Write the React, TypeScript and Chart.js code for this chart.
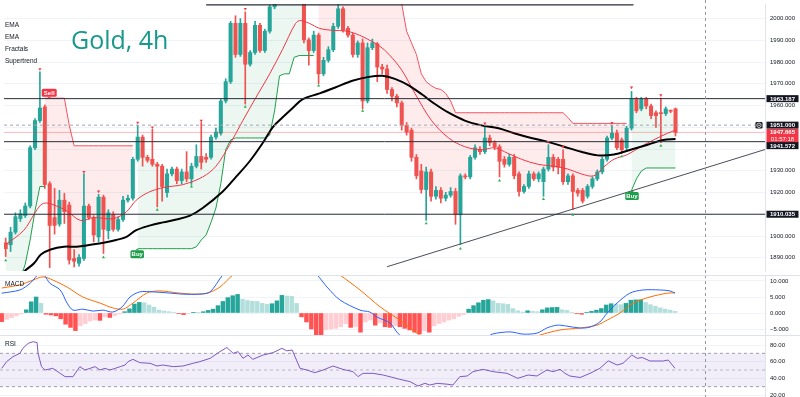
import React, { useEffect, useRef } from 'react';
import { Chart, registerables } from 'chart.js';

Chart.register(...registerables);

const N = null;

// ---------- candles (index 0..137, 4h bars) ----------
const OPEN = [1896.9,1896.0,1901.8,1908.0,1909.4,1913.8,1940.6,1953.1,1959.4,1924.1,1908.5,1905.5,1916.5,1914.3,1889.7,1887.5,1889.7,1913.8,1908.5,1899.6,1917.9,1902.5,1909.8,1903.1,1907.6,1916.5,1917.4,1935.3,1945.5,1936.2,1935.3,1933.0,1932.1,1920.0,1928.6,1930.8,1925.5,1929.5,1926.3,1932.1,1936.6,1936.2,1936.2,1945.5,1947.3,1962.1,1971.0,1997.8,1983.5,1997.8,1979.0,1984.4,1996.9,1985.3,1994.2,2005.4,2013.4,2018.0,2015.0,2020.0,2016.0,2017.0,1990.2,1985.3,1992.4,1974.6,1980.8,1985.7,1996.4,2004.5,1995.5,1992.4,1983.5,1988.8,1962.1,1986.6,1988.4,1977.7,1976.8,1967.4,1964.3,1961.2,1950.9,1948.7,1936.2,1929.9,1921.4,1929.5,1918.3,1921.0,1917.4,1918.8,1920.5,1909.8,1927.7,1927.2,1936.2,1939.7,1938.8,1945.1,1942.9,1941.1,1935.3,1933.0,1936.2,1928.6,1920.5,1922.8,1928.6,1926.3,1925.0,1930.8,1936.2,1935.3,1935.3,1925.0,1927.7,1921.0,1921.0,1918.3,1922.8,1926.3,1929.5,1935.3,1945.1,1947.3,1944.2,1940.6,1949.6,1962.9,1958.5,1962.9,1959.8,1956.7,1956.7,1956.3,1957.6,1958.5];
const HIGH = [1899.1,1904.0,1910.7,1912.1,1915.2,1941.5,1954.0,1975.5,1960.3,1925.0,1921.9,1921.0,1919.7,1915.6,1893.8,1891.5,1928.6,1914.7,1909.4,1919.2,1918.8,1912.1,1911.2,1908.9,1918.3,1918.8,1936.2,1950.9,1946.4,1937.1,1949.1,1933.9,1933.0,1930.8,1931.7,1931.7,1930.8,1938.8,1933.5,1942.0,1952.2,1937.9,1946.4,1949.6,1962.9,1972.3,1998.7,2001.3,2000.0,2003.1,1985.3,1998.7,1997.8,1995.1,2006.3,2015.6,2020.5,2022.0,2024.0,2023.0,2022.0,2020.0,1991.1,1994.2,1993.3,1982.2,1987.1,1997.8,2007.5,2005.4,1996.4,1993.3,1989.7,1990.6,1988.8,1990.6,1989.0,1979.0,1978.6,1968.3,1965.2,1962.1,1952.2,1949.6,1937.5,1933.0,1931.7,1930.8,1922.8,1922.3,1920.1,1922.3,1921.9,1928.6,1928.6,1937.1,1942.0,1941.1,1950.0,1946.4,1943.8,1942.0,1936.6,1937.5,1937.5,1929.5,1923.7,1929.9,1929.5,1929.5,1931.7,1942.0,1937.5,1936.2,1939.7,1928.6,1928.6,1921.9,1921.9,1923.7,1927.2,1930.4,1936.2,1946.0,1950.9,1948.7,1945.1,1950.5,1966.5,1963.8,1963.8,1963.8,1960.7,1957.6,1963.4,1959.4,1958.0,1958.9];
const LOW = [1890.6,1892.9,1900.9,1906.7,1908.5,1912.9,1939.7,1952.2,1921.9,1885.5,1900.9,1904.5,1905.8,1887.1,1885.8,1886.2,1888.8,1907.6,1897.3,1897.3,1892.0,1898.7,1902.2,1902.2,1906.7,1915.6,1916.5,1934.4,1932.1,1933.9,1932.1,1913.4,1916.1,1917.9,1927.7,1924.1,1924.1,1925.0,1923.7,1931.3,1930.8,1933.9,1935.3,1944.6,1946.4,1961.2,1970.1,1982.2,1982.6,1960.7,1978.1,1983.5,1984.4,1984.4,1993.3,2004.5,2011.0,2012.0,2013.0,2012.0,2010.0,1988.8,1978.6,1984.4,1970.1,1973.7,1979.9,1984.8,1995.5,1993.8,1991.5,1982.2,1982.2,1958.5,1961.2,1985.7,1971.0,1974.6,1965.6,1962.1,1959.4,1948.7,1946.4,1934.4,1926.3,1919.7,1907.2,1916.1,1917.0,1915.2,1916.1,1917.9,1905.4,1896.0,1926.3,1926.3,1935.3,1937.5,1937.9,1941.5,1939.7,1927.2,1931.7,1932.1,1926.3,1918.3,1919.7,1921.9,1925.5,1925.0,1918.3,1929.9,1929.9,1928.6,1923.7,1923.7,1912.1,1918.3,1915.2,1917.4,1921.9,1925.5,1928.6,1934.4,1944.2,1939.7,1937.9,1939.7,1948.7,1956.7,1957.6,1958.5,1954.0,1950.0,1942.9,1955.4,1956.7,1946.0];
const CLOSE = [1894.2,1901.8,1908.9,1910.3,1913.8,1940.6,1953.1,1958.9,1923.7,1904.9,1904.9,1916.5,1911.2,1889.0,1888.4,1890.2,1913.8,1908.5,1900.5,1917.9,1903.1,1910.7,1903.1,1907.6,1916.5,1917.4,1935.3,1945.5,1936.2,1934.8,1933.0,1932.1,1922.8,1928.6,1930.8,1925.5,1929.5,1926.3,1932.1,1936.6,1933.9,1935.3,1945.5,1947.8,1962.1,1971.0,1997.8,1983.5,1997.8,1979.0,1984.4,1996.9,1985.3,1994.2,2005.4,2013.4,2018.0,2015.0,2020.0,2016.0,2019.0,1990.2,1985.3,1992.4,1974.6,1980.8,1985.7,1996.4,2004.5,1994.6,1992.4,1983.5,1988.8,1962.1,1986.6,1988.8,1977.7,1976.8,1967.4,1964.3,1961.2,1950.9,1947.8,1936.2,1927.7,1921.4,1929.5,1918.3,1921.0,1917.4,1918.8,1920.5,1909.8,1927.7,1927.2,1936.2,1940.6,1938.8,1945.1,1942.9,1941.1,1934.4,1933.0,1936.2,1927.7,1920.5,1922.8,1928.6,1926.3,1928.6,1930.8,1936.2,1931.7,1931.7,1925.0,1927.7,1920.5,1919.7,1916.1,1922.8,1926.3,1929.5,1935.3,1945.1,1947.3,1940.6,1939.7,1949.6,1962.9,1957.6,1962.9,1959.8,1955.4,1955.4,1956.3,1958.5,1957.4,1947.665];

// ---------- EMAs (index, price) ----------
const EMA_FAST_X = [0,3.72,5.76,7.18,8.4,10.4,12.5,15.3,18.0,22.0,24.7,26.7,29.2,32.2,36.3,40.3,43.0,45.8,48.5,51.1,54.0,56.6,59.3,60.3,62.1,64.2,66.8,69.8,72.3,74.3,76.4,78.4,81.0,83.7,87.1,90.6,93.9,97.3,100.0,102.0,105.5,108.9,112.2,115.0,117.7,120.3,122.3,124.4,127.2,129.9,132.5,135.4,137.0];
const EMA_FAST_V = [1896.0,1902.7,1909.8,1914.3,1915.2,1913.8,1911.6,1907.2,1908.5,1908.0,1911.2,1916.5,1920.1,1922.3,1923.7,1927.2,1932.1,1942.0,1953.1,1963.4,1974.6,1985.7,1997.8,1999.1,1997.8,1995.5,1994.6,1994.2,1992.4,1990.2,1987.5,1983.5,1976.3,1965.6,1953.1,1945.1,1941.1,1939.7,1940.6,1938.8,1935.3,1933.0,1932.1,1930.8,1928.6,1927.7,1931.7,1935.3,1937.5,1941.1,1944.2,1947.3,1948.7];
const EMA_SLOW_X = [2.7,3.7,5.8,7.2,9.2,11.9,14.5,17.4,20.0,22.6,24.7,26.7,29.6,32.2,34.9,37.7,40.3,44.4,47.1,49.9,52.6,54.6,56.6,58.7,60.7,64.2,67.4,70.9,74.3,77.0,79.6,82.5,85.1,87.8,90.6,93.9,97.3,100.8,104.0,107.5,110.9,114.2,117.7,121.1,124.4,127.8,131.3,134.5,137.0];
const EMA_SLOW_V = [1880.0,1883.5,1887.5,1891.5,1893.8,1895.1,1895.1,1896.0,1896.9,1898.2,1899.6,1902.7,1904.9,1906.3,1907.6,1909.4,1912.9,1920.5,1927.2,1934.4,1942.9,1950.0,1954.5,1958.9,1962.9,1965.6,1968.3,1971.4,1973.2,1973.7,1972.3,1969.2,1965.2,1960.7,1956.7,1953.1,1950.9,1949.6,1947.3,1945.1,1943.3,1941.1,1938.8,1937.1,1937.5,1939.7,1942.0,1944.2,1944.6];

// ---------- Supertrend ----------
const ST_UP = [1876,1877,1878,1880.4,1887.1,1898.2,1911.6,1922.8,1922.8,
  N,N,N,N,N,N,N,N,N,N,N,N,N,N,N,N,N,N,
  1894.2,1894.2,1894.2,1894.2,1894.2,1894.2,1894.2,1894.2,1894.2,1894.2,1894.2,1894.2,
  1895.1,1898.2,1900.5,1906.3,1912.9,1924.1,1939.7,1944.2,
  1945.1,1945.1,1945.1,1945.1,1945.1,1945.1,1945.1,
  1946.4,1957.6,1973.7,1974.6,1974.6,1982.2,
  1983.0,1983.0,1983.0,1983.0,
  N,N,N,N,N,N,N,N,N,N,N,N,N,N,N,N,N,N,N,N,N,N,N,N,N,N,N,N,N,N,N,N,
  N,N,N,N,N,N,N,N,N,N,N,N,N,N,N,N,N,N,N,N,N,N,N,N,N,N,N,N,N,N,N,N,
  1921.0,1926.3,1929.9,1931.3,1931.3,1931.3,1931.3,1931.3,1931.3,1931.3];
const ST_DOWN = [N,N,N,N,N,N,N,N,
  1963.4,1963.4,1963.4,1963.4,1963.4,1950.9,
  1941.5,1941.5,1941.5,1941.5,1941.5,1941.5,1941.5,1941.5,1941.5,1941.5,1941.5,1941.5,1941.5,
  N,N,N,N,N,N,N,N,N,N,N,N,N,N,N,N,N,N,N,N,N,N,N,N,N,N,N,N,N,N,N,N,N,N,N,N,N,
  2030,2030,2030,2030,2030,2030,2030,2025,2025,2025,2025,2025,2025,2018,2018,2018,
  2012,2006.7,1994.2,1988.8,1983.5,1974.6,1971.0,1969.2,1967.9,1967.4,1965.6,1962.1,
  1956.7,1956.7,1956.7,1956.7,1956.7,1956.7,1956.7,1956.7,1956.7,1956.7,1956.7,1956.7,1956.7,1956.7,1956.7,1956.7,1956.7,1956.7,1956.7,1956.7,1956.7,1956.7,1956.7,
  1954.5,1951.8,1951.8,1951.8,1951.8,1951.8,1951.8,1951.8,1951.8,1951.8,1951.8,1951.8,1951.8,
  N,N,N,N,N,N,N,N,N,N];
const SIGNAL_INDEX = [8.9, 26.9, 128.1];
const SIGNAL_PRICE = [1963.4, 1894.2, 1921.0];
const SIGNAL_TEXT = ['Sell', 'Buy', 'Buy'];

// ---------- Fractals ----------
const FRACTAL_UP_I = [7,16,19,27,30,40,49,98,111,114,124,128,134];
const FRACTAL_UP_P = [1976.8,1929.5,1920.5,1952.2,1950.0,1953.1,2004.5,1951.8,1943.3,1941.1,1952.0,1968.3,1964.8];
const FRACTAL_DN_I = [0,20,31,38,49,64,73,86,93,101,110,116,126,134];
const FRACTAL_DN_P = [1888.8,1890.2,1912.1,1922.8,1959.4,1969.2,1957.6,1905.8,1894.2,1925.5,1917.0,1909.8,1936.6,1941.5];

// ---------- drawings ----------
const LEVELS = [1963.187, 1943.4, 1910.035];
const TOP_LINE_X = [41.0, 128.4];
const TOP_LINE_P = 2006.3;
const TREND_X = [78.0, 155.3];
const TREND_P = [1885.9, 1939.8];
const DASHED_LEVEL = 1951.0;
const LAST_PRICE = 1947.665;
const CURSOR_X = 143.1;

const TAG_VALUE = [1963.187, 1951.0, 1947.665, 1941.572, 1910.035];
const TAG_TEXT = ['1963.187', '1951.000', '1947.665', '1941.572', '1910.035'];
const TAG_SUB = ['', '', '01:57:18', '', ''];
const TAG_BG = ['#131722', '#131722', '#f23645', '#131722', '#131722'];

// ---------- MACD ----------
const MACD_HIST = [-2.7,-2.0,-1.5,-0.9,-0.3,1.0,3.5,5.0,3.0,-0.4,-0.6,-0.9,-1.8,-3.5,-4.5,-5.5,-4.0,-3.3,-2.5,-2.2,-2.3,-1.2,-1.4,-0.8,-0.3,0.4,1.3,2.8,3.3,3.2,2.5,1.8,0.9,0.6,0.4,0.2,-0.2,-0.5,-0.2,0.1,0.08,0.4,0.8,1.2,2.3,3.6,4.8,5.4,5.8,4.3,3.9,3.7,3.6,3.0,2.7,2.9,3.8,5.5,5.3,5.2,3.0,-1.2,-2.8,-5.0,-6.8,-6.9,-5.2,-5.0,-4.8,-4.3,-3.3,-4.5,-4.3,-6.0,-2.8,-2.2,-3.8,-3.0,-4.3,-4.5,-4.0,-4.3,-4.8,-5.3,-6.0,-6.5,-5.5,-6.0,-4.0,-3.3,-2.8,-2.2,-1.8,-1.0,-0.5,1.2,2.3,3.2,4.0,4.2,3.8,3.0,2.9,2.7,1.4,0.7,0.3,0.7,0.5,0.4,1.0,1.6,1.7,1.75,1.0,0.8,0.2,-0.2,-0.4,0.2,0.5,0.9,1.4,2.5,2.9,2.8,2.6,3.0,4.0,4.1,4.15,3.3,2.6,2.1,1.6,1.2,0.9,0.5];
const MACD_X = [0,3.7,5.8,7.8,8.8,9.8,11.9,13.3,14.5,16.5,18.6,20.6,22.6,24.5,26.1,28.1,30.8,33.6,36.9,40.3,42.4,45.0,47.1,52.5,58.7,62.7,64.2,66.2,68.8,72.9,74.9,76.4,79.0,81.0,85.1,93.2,98.3,99.8,103.4,106.1,108.9,110.9,113.0,115.0,117.7,119.7,121.7,123.2,125.2,127.8,130.5,133.9,136.0,137.0];
const MACD_V = [6.2,7.2,9.3,12.5,11.5,9.3,7.2,3.1,0.9,1.2,0.6,0.9,0.3,1.9,5.0,6.6,6.6,6.3,5.9,5.9,6.6,11.9,14.5,16,16,14,11.9,8.1,4.1,0.9,0.3,-1.3,-3.1,-6.9,-9,-9,-8,-6.6,-5.9,-6.6,-6.3,-4.7,-3.8,-4.1,-4.7,-4.4,-2.8,0,3.1,6.2,7.2,7.2,6.9,6.2];
const SIGNAL_X = [0,3.7,6.4,8.4,10.4,13.3,16.5,20.0,22.6,24.7,26.7,29.6,32.2,35.7,38.9,41.8,44.4,47.1,50.5,60.7,66.8,68.8,72.9,77.0,81.0,85.1,89.2,101.4,107.5,109.5,113.6,117.7,121.1,123.2,125.8,128.5,131.9,135.4,137.0];
const SIGNAL_V = [7.8,8.8,10.3,11.3,10.3,8.1,5.0,3.1,1.6,1.2,3.1,6.3,6.9,6.3,5.9,6.2,8.1,11.9,14.5,16,14,11.9,7.2,1.9,-2.2,-6.9,-9,-10.5,-8,-6.9,-5.3,-4.7,-3.8,-2.2,0,3.1,5.0,6.2,6.3];

// ---------- RSI ----------
const RSI_X = [0,1.0,2.3,3.7,4.3,5.4,6.4,7.2,7.4,8.1,8.8,10.4,11.9,12.9,14.5,15.9,16.9,18.0,19.0,20.0,21.0,22.0,23.1,24.1,25.1,25.7,26.7,28.1,30.2,31.6,32.8,34.9,36.9,38.9,40.3,42.4,44.4,45.8,47.1,48.1,49.1,50.1,51.1,53.2,55.2,57.0,58.0,59.1,60.7,62.1,63.7,65.4,67.4,69.4,71.5,72.5,73.5,75.5,77.6,79.6,81.0,83.1,84.7,86.1,87.1,88.6,90.6,91.8,93.2,94.7,95.9,97.9,100.0,102.8,105.0,107.1,108.9,110.9,112.2,113.6,114.6,115.6,117.7,119.7,121.7,123.4,125.2,126.4,128.2,129.3,130.3,131.9,134.6,135.6,137.0];
const RSI_V = [52,60,66,70,76,82,84,82.8,70,54,50,52,46,42,42,54,50,52,54,50,52,50,52,54,56,60,62.8,58.8,58,54.8,56,54,54.8,58,60,64,72,77,70,72,64,68,62.8,68,70.8,76,73,74,52,50,46.8,50,54.8,50.8,48,42,46,46,44,41,38.8,36,30.8,34,32,34,33,32,42,42.8,48,50.8,48,46,40,44,42.8,50,48,50.8,46,42.8,41,46,52,61,56,58,68,64,65,60.8,60.8,62,52];
const RSI_LEVELS = [70, 50, 30];

// ---------- axes ----------
const MAIN_TICKS = [1890,1900,1910,1920,1930,1940,1950,1960,1970,1980,1990,2000];
const MAIN_HIDDEN = [1910, 1940, 1950];
const MACD_TICKS = [-5, 0, 5, 10];
const RSI_TICKS = [20, 40, 60, 80];

const FONT = "'Liberation Sans', Arial, sans-serif";
const AXIS_W = 35;
const MAIN_H = 275;
const MACD_H = 60;
const RSI_H = 62;
const X_MIN = -0.346;
const X_MAX = 155.3;
const UP_COLOR = '#26a69a';
const DOWN_COLOR = '#ef5350';

const pts = (xs: number[], ys: number[]) => xs.map((x, i) => ({ x, y: ys[i] }));
const hline = (v: number) => [{ x: X_MIN, y: v }, { x: X_MAX, y: v }];

function yScale(min: number, max: number, ticks: number[], fmt: (v: number) => string, hidden: number[] = []) {
  return {
    type: 'linear',
    position: 'right',
    min,
    max,
    offset: false,
    afterFit: (s: any) => { s.width = AXIS_W; s.paddingTop = 0; s.paddingBottom = 0; },
    afterBuildTicks: (s: any) => { s.ticks = ticks.map((v) => ({ value: v })); },
    ticks: {
      autoSkip: false,
      padding: 5,
      color: '#131722',
      font: { size: 6, family: FONT },
      callback: (v: number) => (hidden.includes(v) ? '' : fmt(v)),
    },
    grid: { color: '#f0f3fa', drawTicks: false, offset: false },
    border: { display: true, color: '#e0e3eb' },
  };
}

function baseOptions(y: any) {
  return {
    responsive: false,
    maintainAspectRatio: false,
    animation: false,
    devicePixelRatio: 1,
    events: [],
    layout: { padding: 0 },
    plugins: {
      legend: { display: false },
      tooltip: { enabled: false },
      filler: { drawTime: 'beforeDatasetsDraw' },
    },
    scales: {
      x: { type: 'linear', min: X_MIN, max: X_MAX, display: false, offset: false, grid: { offset: false } },
      y,
    },
  };
}

const cursorPlugin = {
  id: 'cursorLine',
  afterDatasetsDraw(chart: any) {
    const { ctx } = chart;
    const x = Math.round(chart.scales.x.getPixelForValue(CURSOR_X)) + 0.5;
    ctx.save();
    ctx.strokeStyle = '#9598a1';
    ctx.lineWidth = 1;
    ctx.setLineDash([3, 3]);
    ctx.beginPath();
    ctx.moveTo(x, 0);
    ctx.lineTo(x, chart.height);
    ctx.stroke();
    ctx.restore();
  },
};

const separatorPlugin = {
  id: 'paneSeparator',
  afterDraw(chart: any) {
    const { ctx } = chart;
    ctx.save();
    ctx.strokeStyle = '#dfe2ea';
    ctx.lineWidth = 1;
    ctx.beginPath();
    ctx.moveTo(0, 0.5);
    ctx.lineTo(chart.width, 0.5);
    ctx.stroke();
    ctx.restore();
  },
};

function roundRect(ctx: any, x: number, y: number, w: number, h: number, r: number) {
  ctx.beginPath();
  ctx.moveTo(x + r, y);
  ctx.lineTo(x + w - r, y);
  ctx.quadraticCurveTo(x + w, y, x + w, y + r);
  ctx.lineTo(x + w, y + h - r);
  ctx.quadraticCurveTo(x + w, y + h, x + w - r, y + h);
  ctx.lineTo(x + r, y + h);
  ctx.quadraticCurveTo(x, y + h, x, y + h - r);
  ctx.lineTo(x, y + r);
  ctx.quadraticCurveTo(x, y, x + r, y);
  ctx.closePath();
}

const signalPlugin = {
  id: 'signals',
  afterDatasetsDraw(chart: any) {
    const { ctx } = chart;
    const xs = chart.scales.x;
    const ys = chart.scales.y;
    ctx.save();
    ctx.font = `bold 6px ${FONT}`;
    ctx.textAlign = 'center';
    ctx.textBaseline = 'middle';
    SIGNAL_INDEX.forEach((si, k) => {
      const px = xs.getPixelForValue(si);
      const py = ys.getPixelForValue(SIGNAL_PRICE[k]);
      const sell = SIGNAL_TEXT[k] === 'Sell';
      const w = sell ? 15 : 13.5;
      const h = 8;
      const top = sell ? py - 1.5 - h : py + 1.5;
      const col = sell ? '#f23645' : '#1e9e4a';
      ctx.fillStyle = col;
      roundRect(ctx, px - w / 2, top, w, h, 1.5);
      ctx.fill();
      ctx.beginPath();
      if (sell) {
        ctx.moveTo(px - 2, top + h);
        ctx.lineTo(px + 2, top + h);
        ctx.lineTo(px, py);
      } else {
        ctx.moveTo(px - 2, top);
        ctx.lineTo(px + 2, top);
        ctx.lineTo(px, py);
      }
      ctx.closePath();
      ctx.fill();
      ctx.fillStyle = '#ffffff';
      ctx.fillText(SIGNAL_TEXT[k], px, top + h / 2 + 0.5);
    });
    ctx.restore();
  },
};

const tagPlugin = {
  id: 'priceTags',
  afterDraw(chart: any) {
    const { ctx } = chart;
    const ys = chart.scales.y;
    const left = chart.chartArea.right + 1.5;
    const w = 32;
    ctx.save();
    ctx.font = `bold 6px ${FONT}`;
    ctx.textAlign = 'center';
    ctx.textBaseline = 'middle';
    TAG_VALUE.forEach((v, k) => {
      const py = ys.getPixelForValue(v);
      const h = TAG_SUB[k] ? 14 : 7;
      const top = py - 3.5;
      ctx.fillStyle = TAG_BG[k];
      ctx.fillRect(left, top, w, h);
      ctx.fillStyle = '#ffffff';
      ctx.fillText(TAG_TEXT[k], left + w / 2, py + 0.3);
      if (TAG_SUB[k]) {
        ctx.font = `6px ${FONT}`;
        ctx.fillText(TAG_SUB[k], left + w / 2, py + 7.2);
        ctx.font = `bold 6px ${FONT}`;
      }
      if (k === 1) {
        const ix = left - 11;
        ctx.fillStyle = '#131722';
        roundRect(ctx, ix, py - 3.2, 7, 6.6, 1.2);
        ctx.fill();
        ctx.strokeStyle = '#ffffff';
        ctx.lineWidth = 0.8;
        ctx.beginPath();
        ctx.arc(ix + 3.5, py + 0.1, 2.2, 0, Math.PI * 2);
        ctx.stroke();
        ctx.beginPath();
        ctx.moveTo(ix + 2.4, py + 0.1);
        ctx.lineTo(ix + 4.6, py + 0.1);
        ctx.stroke();
      }
    });
    ctx.restore();
  },
};

function mainConfig(): any {
  const mid = OPEN.map((o, i) => ({ x: i, y: (o + CLOSE[i]) / 2 }));
  const colors = OPEN.map((o, i) => (CLOSE[i] >= o ? UP_COLOR : DOWN_COLOR));
  const greenFill = 'rgba(38,166,91,0.09)';
  const redFill = 'rgba(242,54,69,0.10)';
  const datasets: any[] = [
    { type: 'line', data: mid, borderColor: 'transparent', borderWidth: 0, pointRadius: 0, order: 50 },
    {
      type: 'line', data: ST_UP.map((v, i) => ({ x: i, y: v })), borderColor: '#1f9e4d', borderWidth: 1,
      pointRadius: 0, spanGaps: false, fill: { target: 0, above: greenFill, below: greenFill }, order: 4,
    },
    {
      type: 'line', data: ST_DOWN.map((v, i) => ({ x: i, y: v })), borderColor: '#f7525f', borderWidth: 1,
      pointRadius: 0, spanGaps: false, fill: { target: 0, above: redFill, below: redFill }, order: 4,
    },
    { type: 'bar', data: LOW.map((l, i) => ({ x: i, y: [l, HIGH[i]] })), backgroundColor: colors, barThickness: 1, grouped: false, borderWidth: 0, order: 12 },
    { type: 'bar', data: OPEN.map((o, i) => ({ x: i, y: [o, CLOSE[i]] })), backgroundColor: colors, barThickness: 3.4, grouped: false, borderWidth: 0, minBarLength: 1, order: 11 },
    { type: 'line', data: pts(EMA_SLOW_X, EMA_SLOW_V), borderColor: '#000000', borderWidth: 2, pointRadius: 0, tension: 0.35, order: 3 },
    { type: 'line', data: pts(EMA_FAST_X, EMA_FAST_V), borderColor: '#f23645', borderWidth: 1, pointRadius: 0, tension: 0.35, order: 3 },
    ...LEVELS.map((v) => ({ type: 'line', data: hline(v), borderColor: '#2a2e39', borderWidth: 1, pointRadius: 0, order: 2 })),
    { type: 'line', data: [{ x: TOP_LINE_X[0], y: TOP_LINE_P }, { x: TOP_LINE_X[1], y: TOP_LINE_P }], borderColor: '#2a2e39', borderWidth: 1.2, pointRadius: 0, order: 2 },
    { type: 'line', data: pts(TREND_X, TREND_P), borderColor: '#4a4e59', borderWidth: 1, pointRadius: 0, order: 2 },
    { type: 'line', data: hline(DASHED_LEVEL), borderColor: '#a3a6af', borderWidth: 1, borderDash: [3, 3], pointRadius: 0, order: 2 },
    { type: 'line', data: hline(LAST_PRICE), borderColor: 'rgba(242,54,69,0.35)', borderWidth: 1, pointRadius: 0, order: 2 },
    {
      type: 'line', data: pts(FRACTAL_UP_I, FRACTAL_UP_P), showLine: false, pointStyle: 'triangle', pointRotation: 180,
      pointRadius: 1.8, pointBorderWidth: 0, pointBackgroundColor: '#f23645', order: 1,
    },
    {
      type: 'line', data: pts(FRACTAL_DN_I, FRACTAL_DN_P), showLine: false, pointStyle: 'triangle',
      pointRadius: 1.8, pointBorderWidth: 0, pointBackgroundColor: '#2fb24f', order: 1,
    },
  ];
  return {
    type: 'line',
    data: { datasets },
    options: baseOptions(yScale(2006.7 - MAIN_H * 0.4464, 2006.7, MAIN_TICKS, (v) => v.toFixed(3), MAIN_HIDDEN)),
    plugins: [cursorPlugin, signalPlugin, tagPlugin],
  };
}

function macdConfig(): any {
  const colors = MACD_HIST.map((h, i) => {
    const prev = i > 0 ? MACD_HIST[i - 1] : h;
    if (h >= 0) return i > 0 && h >= prev ? '#26a69a' : '#b2dfdb';
    return h <= prev ? '#ff5252' : '#ffcdd2';
  });
  const datasets: any[] = [
    { type: 'line', data: pts(MACD_X, MACD_V), borderColor: '#2962ff', borderWidth: 1, pointRadius: 0, tension: 0.3, order: 1 },
    { type: 'line', data: pts(SIGNAL_X, SIGNAL_V), borderColor: '#ff6d00', borderWidth: 1, pointRadius: 0, tension: 0.3, order: 2 },
    { type: 'bar', data: MACD_HIST.map((h, i) => ({ x: i, y: h })), backgroundColor: colors, barThickness: 3.8, grouped: false, borderWidth: 0, order: 3 },
  ];
  return {
    type: 'line',
    data: { datasets },
    options: baseOptions(yScale(-6.875, 11.875, MACD_TICKS, (v) => (v < 0 ? '\u2212' + Math.abs(v).toFixed(3) : v.toFixed(3)))),
    plugins: [cursorPlugin, separatorPlugin],
  };
}

function rsiConfig(): any {
  const band = 'rgba(126,87,194,0.1)';
  const datasets: any[] = [
    { type: 'line', data: hline(RSI_LEVELS[0]), borderColor: 'rgba(120,123,134,0.7)', borderWidth: 1, borderDash: [3, 3], pointRadius: 0, fill: { target: 1, above: band, below: band }, order: 3 },
    { type: 'line', data: hline(RSI_LEVELS[2]), borderColor: 'rgba(120,123,134,0.7)', borderWidth: 1, borderDash: [3, 3], pointRadius: 0, order: 3 },
    { type: 'line', data: hline(RSI_LEVELS[1]), borderColor: 'rgba(120,123,134,0.5)', borderWidth: 1, borderDash: [3, 3], pointRadius: 0, order: 3 },
    { type: 'line', data: pts(RSI_X, RSI_V), borderColor: '#7e57c2', borderWidth: 1, pointRadius: 0, order: 1 },
  ];
  return {
    type: 'line',
    data: { datasets },
    options: baseOptions(yScale(17.6, 92, RSI_TICKS, (v) => v.toFixed(2))),
    plugins: [cursorPlugin, separatorPlugin],
  };
}

function Txt({ x, cy, size, color, children, family, weight }: any) {
  return (
    <div
      style={{
        position: 'absolute', left: x, top: cy - size * 0.6, fontSize: size, lineHeight: `${size * 1.2}px`,
        color: color || '#131722', fontFamily: family || FONT, fontWeight: weight || 400, whiteSpace: 'nowrap',
      }}
    >
      {children}
    </div>
  );
}

export default function App() {
  const mainRef = useRef<HTMLCanvasElement>(null);
  const macdRef = useRef<HTMLCanvasElement>(null);
  const rsiRef = useRef<HTMLCanvasElement>(null);

  useEffect(() => {
    const charts = [
      new Chart(mainRef.current as any, mainConfig()),
      new Chart(macdRef.current as any, macdConfig()),
      new Chart(rsiRef.current as any, rsiConfig()),
    ];
    return () => charts.forEach((c) => c.destroy());
  }, []);

  const cs = (top: number, h: number): any => ({ position: 'absolute', left: 0, top, width: 800, height: h, display: 'block' });

  return (
    <div style={{ position: 'fixed', left: 0, top: 0, width: 800, height: 397, background: '#ffffff', overflow: 'hidden' }}>
      <canvas ref={mainRef} width={800} height={MAIN_H} style={cs(0, MAIN_H)} />
      <canvas ref={macdRef} width={800} height={MACD_H} style={cs(MAIN_H, MACD_H)} />
      <canvas ref={rsiRef} width={800} height={RSI_H} style={cs(MAIN_H + MACD_H, RSI_H)} />
      <div
        style={{
          position: 'absolute', left: 71, top: 23.6, fontSize: 25, lineHeight: '30px', color: '#16988a',
          fontFamily: "'Open Sans', sans-serif", whiteSpace: 'nowrap',
        }}
      >
        Gold, 4h
      </div>
      <Txt x={5} cy={25} size={6.5}>EMA</Txt>
      <Txt x={5} cy={37} size={6.5}>EMA</Txt>
      <Txt x={5} cy={49} size={6.5}>Fractals</Txt>
      <Txt x={5} cy={61} size={6.5}>Supertrend</Txt>
      <Txt x={5} cy={284} size={6.5}>MACD</Txt>
      <Txt x={5} cy={344} size={6.5}>RSI</Txt>
    </div>
  );
}
